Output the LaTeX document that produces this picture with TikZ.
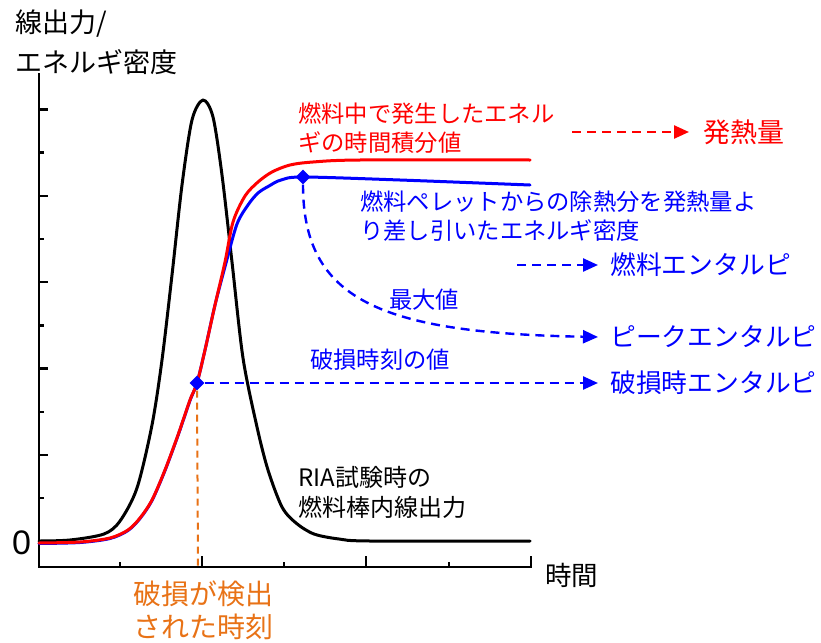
\documentclass[tikz,border=0pt]{standalone}
\usepackage{fontspec}
\setmainfont{Noto Sans CJK JP}
\newfontfamily\latinfont{Liberation Sans}
\usetikzlibrary{arrows.meta,shapes.geometric}
\definecolor{myorange}{RGB}{232,114,22}
\begin{document}
\begin{tikzpicture}[x=1pt,y=-1pt,
  curve/.style={line width=3pt,line join=round,line cap=round},
  axisline/.style={line width=2.6pt},
  dashline/.style={dash pattern=on 9pt off 6pt,line width=2.4pt},
  tipped/.style={-{Triangle[length=15pt,width=13pt]}},
  lbl/.style={inner sep=0pt,anchor=west,align=left},
  body/.style={font=\fontsize{23.3}{29}\selectfont},
  big/.style={font=\fontsize{25.8}{33}\selectfont},
  dmark/.style={diamond,fill=blue,minimum size=15pt,inner sep=0pt}]
\useasboundingbox (0,0) rectangle (821,642);
% axes
\draw[axisline] (39,73) -- (39,567) -- (532,567);
\foreach \yy in {109.3,195.7,282.1,368.5,454.9} \draw[line width=2.4pt] (39,\yy) -- (48,\yy);
\foreach \yy in {152.5,238.9,325.3,411.7,498.1} \draw[line width=2.4pt] (39,\yy) -- (44,\yy);
\foreach \xx in {202,366,531} \draw[line width=2.4pt] (\xx,567) -- (\xx,556);
\foreach \xx in {120,284,449} \draw[line width=2.4pt] (\xx,567) -- (\xx,562);
% black curve
\draw[curve,black] plot[smooth,tension=0.5] coordinates {(39,541) (70,540) (104,534) (120,521) (137,488) (152,425) (162,360) (172,275) (182,185) (192,120) (203,100) (213,117) (222,175) (232,262) (243,358) (257,427) (268,470) (282,507) (296,523) (314,534) (339,539) (370,541) (530,541)};
% blue curve
\draw[curve,blue] plot[smooth,tension=0.5] coordinates {(39,543.5) (80,542.5) (110,538.5) (128,530.5) (140,518.5) (152,500.5) (165,470.5) (178,435.5) (190,400.5) (197,383) (205,350) (215,305) (226,263) (237,224) (248,205) (258,193) (269,186) (281,180) (303,177) (400,180) (530,185)};
% red curve
\draw[curve,red] plot[smooth,tension=0.5] coordinates {(39,543) (80,542) (110,538) (128,530) (140,518) (152,500) (165,470) (178,435) (190,400) (197,383) (205,350) (215,305) (225,262) (233,222) (245,196) (258,182) (272,172) (290,165) (313,162) (360,160) (530,160)};
% markers
\node[dmark] (dpk) at (303,177) {};
\node[dmark] (dbr) at (197,383) {};
% labels
\node[lbl,font=\fontsize{27}{40}\selectfont] (ylab) at (15,42) {線出力/\\エネルギ密度};
\node[lbl,font=\latinfont\fontsize{34}{34}\selectfont] (zero) at (12,543) {0};
\node[lbl,font=\fontsize{26.5}{33}\selectfont] (xlab) at (545,575) {時間};
\node[lbl,body,red] (rtxt) at (298,128) {燃料中で発生したエネル\\ギの時間積分値};
\node[lbl,body,blue] (btxt) at (360,216) {燃料ペレットからの除熱分を発熱量よ\\り差し引いたエネルギ密度};
\node[lbl,font=\fontsize{27}{33}\selectfont,red] (heat) at (703,132) {発熱量};
\node[lbl,big,blue] (fuel) at (610,265) {燃料エンタルピ};
\node[lbl,big,blue] (peak) at (610,337) {ピークエンタルピ};
\node[lbl,big,blue] (brk) at (610,383) {破損時エンタルピ};
\node[lbl,body,blue] (maxv) at (389,300) {最大値};
\node[lbl,body,blue] (brkv) at (310,360) {破損時刻の値};
\node[lbl,body,font=\fontsize{24}{30}\selectfont] (ria) at (298,492) {RIA試験時の\\燃料棒内線出力};
\node[lbl,font=\fontsize{28}{33}\selectfont,myorange] (det) at (133,610) {破損が検出\\された時刻};
% connectors
\coordinate (rstart) at (572,132);
\coordinate (fstart) at (517,265);
\coordinate (xaxis) at (198,567);
\draw[dashline,tipped,red] (rstart) -- ([xshift=-14pt]heat.west);
\draw[dashline,tipped,blue] (fstart) -- ([xshift=-12pt]fuel.west);
\draw[dashline,tipped,blue] (dbr.east) -- ([xshift=-12pt]brk.west);
\draw[dashline,tipped,blue] (dpk.south) .. controls (303,300) and (380,333) .. ([xshift=-12pt]peak.west);
\draw[dashline,myorange,line width=2pt,dash pattern=on 7pt off 5pt] (dbr.south) -- (xaxis);
\end{tikzpicture}
\end{document}
